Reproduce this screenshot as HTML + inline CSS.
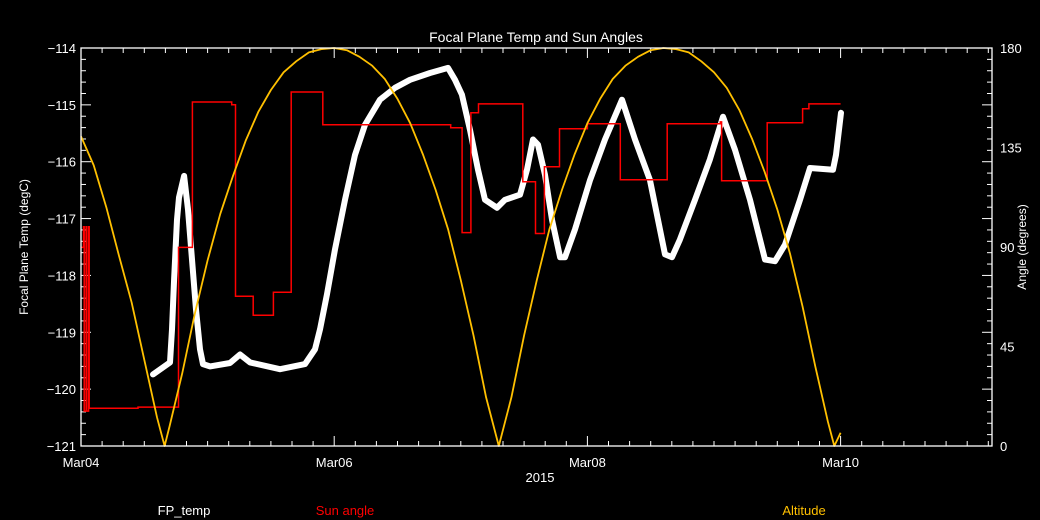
<!DOCTYPE html>
<html><head><meta charset="utf-8"><style>
html,body{margin:0;padding:0;background:#000;}
svg{display:block;font-family:"Liberation Sans",sans-serif;}
</style></head><body>
<svg id="chart" width="1040" height="520" viewBox="0 0 1040 520">
<rect width="1040" height="520" fill="#000"/>
<g id="ticks"></g>
<g id="series"></g>
<rect x="81" y="48" width="911" height="398" fill="none" stroke="#fff" stroke-width="1.3"/>
<text x="536" y="42" fill="#fff" font-size="14" text-anchor="middle">Focal Plane Temp and Sun Angles</text>
<text transform="translate(28,247) rotate(-90)" fill="#fff" font-size="12" text-anchor="middle">Focal Plane Temp (degC)</text>
<text transform="translate(1026,247) rotate(-90)" fill="#fff" font-size="12" text-anchor="middle">Angle (degrees)</text>
<text x="540" y="482" fill="#fff" font-size="13" text-anchor="middle">2015</text>
<text x="184" y="515" fill="#fff" font-size="13" text-anchor="middle">FP_temp</text>
<text x="345" y="515" fill="#ff0000" font-size="13" text-anchor="middle">Sun angle</text>
<text x="804" y="515" fill="#ffc000" font-size="13" text-anchor="middle">Altitude</text>
</svg>
<script>
const xLabels = ["Mar04","Mar06","Mar08","Mar10"];
const xLabelDays = [0,2,4,6];
const yTicks = [-114,-115,-116,-117,-118,-119,-120,-121];
const y2Ticks = [180,135,90,45,0];

const altTimes = [0,0.1,0.2,0.3,0.4,0.5,0.6,0.66,0.7,0.8,0.9,1.0,1.1,1.2,1.3,1.4,1.5,1.6,1.7,1.8,1.9,2.0,2.1,2.2,2.3,2.4,2.5,2.6,2.7,2.8,2.9,3.0,3.1,3.2,3.3,3.4,3.5,3.6,3.7,3.8,3.9,4.0,4.1,4.2,4.3,4.4,4.5,4.6,4.7,4.8,4.9,5.0,5.1,5.2,5.3,5.4,5.5,5.6,5.7,5.8,5.9,5.95,6.0];
const altValues = [140,127,108,86,65,39,13,0,9,33,60,84,105,122,138,151,161,169,174,178,179.5,180,179,176,172,166,157,146,132,116,98,75,50,22,0,22,50,75,98,116,132,146,157,166,172,176,179,180,179.5,178,174,169,162,152,139,124,107,87,63,36,11,0,6];

const sunTimes = [0,0.02,0.025,0.04,0.045,0.06,0.065,0.45,0.77,0.88,1.19,1.22,1.36,1.52,1.66,1.91,2.92,3.01,3.08,3.14,3.49,3.59,3.66,3.78,4.0,4.26,4.63,5.05,5.06,5.42,5.70,5.75,6.0];
const sunValues = [89.8,99.2,15.8,99.2,15.8,99.2,17.1,17.6,89.8,155.6,154.3,67.7,59.1,69.5,160.1,145.3,143.9,96.5,150.7,154.7,119.5,96.1,126.3,143.5,145.7,120.4,145.7,146.6,120,146.2,152.5,154.7,154.7];

const fpTimes = [0.569,0.703,0.719,0.735,0.758,0.774,0.814,0.845,0.877,0.908,0.94,0.964,1.019,1.177,1.256,1.335,1.572,1.769,1.848,1.888,1.943,2.006,2.085,2.164,2.243,2.362,2.48,2.599,2.757,2.899,2.954,3.009,3.073,3.136,3.191,3.286,3.349,3.468,3.523,3.57,3.61,3.665,3.72,3.784,3.823,3.902,4.021,4.139,4.273,4.376,4.494,4.613,4.668,4.731,4.85,4.968,5.071,5.166,5.284,5.403,5.482,5.561,5.679,5.758,5.94,5.964,6.003];
const fpValues = [-119.74,-119.53,-118.95,-118.07,-117.02,-116.63,-116.25,-116.84,-117.72,-118.6,-119.3,-119.56,-119.6,-119.54,-119.39,-119.53,-119.65,-119.56,-119.3,-118.95,-118.33,-117.54,-116.67,-115.88,-115.35,-114.91,-114.7,-114.56,-114.44,-114.35,-114.56,-114.82,-115.44,-116.14,-116.67,-116.81,-116.67,-116.58,-116.14,-115.61,-115.7,-116.23,-117.02,-117.68,-117.68,-117.19,-116.32,-115.61,-114.91,-115.61,-116.32,-117.63,-117.68,-117.37,-116.67,-115.96,-115.21,-115.79,-116.67,-117.72,-117.75,-117.46,-116.67,-116.11,-116.14,-115.88,-115.14];

const X0=81, X1=992, Y0=48, Y1=446, DAYPX=126.6;
function xs(t){return X0+t*DAYPX;}
function ys(v){return Y0+(-114-v)/7*(Y1-Y0);}
function ys2(a){return Y1-a/180*(Y1-Y0);}
const NS="http://www.w3.org/2000/svg";
function mk(tag,attrs,parent){const e=document.createElementNS(NS,tag);for(const k in attrs)e.setAttribute(k,attrs[k]);parent.appendChild(e);return e;}
const tg=document.getElementById('ticks');
const sg=document.getElementById('series');

for(let i=0;X0+i*DAYPX/6<=X1+0.5;i++){
  const x=X0+i*DAYPX/6; const major=(i%12===0); const L=major?10:5;
  const a=mk('line',{x1:x,x2:x,y1:Y1,y2:Y1-L,stroke:'#fff','stroke-width':1},tg);
  
  
  const b=mk('line',{x1:x,x2:x,y1:Y0,y2:Y0+L,stroke:'#fff','stroke-width':1},tg);
  
  
}
xLabels.forEach((s,i)=>{
  const t=mk('text',{x:xs(xLabelDays[i]),y:467,fill:'#fff','font-size':13,'text-anchor':'middle'},tg);
  t.textContent=s;
  
  
});
for(let i=0;i<=35;i++){
  const v=-114-i*0.2; const y=ys(v); const major=(i%5===0); const L=major?10:5;
  const a=mk('line',{x1:X0,x2:X0+L,y1:y,y2:y,stroke:'#fff','stroke-width':1},tg);
  
  
  const b=mk('line',{x1:X1,x2:X1-L,y1:y,y2:y,stroke:'#fff','stroke-width':1},tg);
  
  
}
yTicks.forEach(v=>{
  const t=mk('text',{x:76,y:ys(v)+5,fill:'#fff','font-size':13,'text-anchor':'end'},tg);
  t.textContent='\u2212'+Math.abs(v);
  
  
});
y2Ticks.forEach(v=>{
  const t=mk('text',{x:1000,y:ys2(v)+5,fill:'#fff','font-size':13},tg);
  t.textContent=String(v);
  
  
});

let d='';
fpTimes.forEach((t,i)=>{d+=(i?'L':'M')+xs(t).toFixed(1)+' '+ys(fpValues[i]).toFixed(1);});
const fp=mk('path',{d:d,fill:'none',stroke:'#fff','stroke-width':6,'stroke-linejoin':'round','stroke-linecap':'round'},sg);



d='';
sunTimes.forEach((t,i)=>{
  const x=xs(t).toFixed(1), y=ys2(sunValues[i]).toFixed(1);
  if(i===0) d+='M'+x+' '+y; else d+='H'+x+'V'+y;
});
const sa=mk('path',{d:d,fill:'none',stroke:'#ff0000','stroke-width':1.5},sg);



d='';
altTimes.forEach((t,i)=>{d+=(i?'L':'M')+xs(t).toFixed(1)+' '+ys2(altValues[i]).toFixed(1);});
const al=mk('path',{d:d,fill:'none',stroke:'#ffc000','stroke-width':1.8,'stroke-linejoin':'round'},sg);


</script>
</body></html>
